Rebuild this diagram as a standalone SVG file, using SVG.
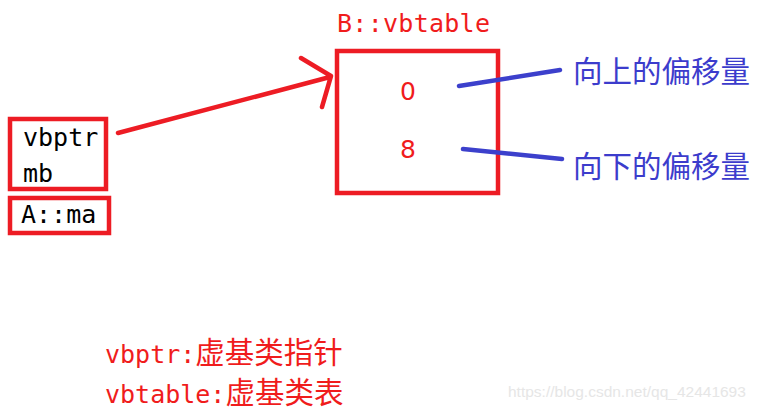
<svg xmlns="http://www.w3.org/2000/svg" width="761" height="411" viewBox="0 0 761 411">
<style>
.box{fill:none;stroke:#ed1c24;stroke-width:4.5}
.mono{font-family:"DejaVu Sans Mono","Liberation Mono",monospace;font-size:25px}
.blk{fill:#000}
.red{fill:#f01c1c}
.cjk{font-family:"Noto Sans CJK SC",sans-serif;font-size:29.5px}
.blue{fill:#3c3ccc}
.rl{stroke:#ed1c24;stroke-width:4.5;fill:none;stroke-linecap:round;stroke-linejoin:round}
.bl{stroke:#3c40cc;stroke-width:4.5;fill:none;stroke-linecap:round}
</style>
<rect width="761" height="411" fill="#fff"/>
<g id="objA">
<rect class="box" x="10" y="119" width="96" height="70"/>
<text class="mono blk" x="23" y="146">vbptr</text>
<text class="mono blk" x="23" y="182">mb</text>
</g>
<g id="ma">
<rect class="box" x="10" y="198" width="99" height="35"/>
<text class="mono blk" x="21" y="223">A::ma</text>
</g>
<g id="vbtable">
<text class="mono red" x="337" y="32" textLength="153">B::vbtable</text>
<rect class="box" x="337" y="51" width="161" height="142"/>
<text class="red" x="408" y="100" text-anchor="middle" font-family="DejaVu Sans,sans-serif" font-size="25">0</text>
<text class="red" x="408" y="158" text-anchor="middle" font-family="DejaVu Sans,sans-serif" font-size="25">8</text>
</g>
<g id="up">
<text class="cjk blue" x="573" y="82">向上的偏移量</text>
</g>
<g id="down">
<text class="cjk blue" x="573" y="177">向下的偏移量</text>
</g>
<g id="connectors">
<path class="rl" d="M118,133 L330,77 M301,58 L331,76 L322,107"/>
<path class="bl" d="M459,86 L560,70"/>
<path class="bl" d="M463,149 L562,159"/>
</g>
<g id="legend">
<text class="mono red" x="105" y="363">vbptr:<tspan class="cjk" font-size="29">虚基类指针</tspan></text>
<text class="mono red" x="105" y="403">vbtable:<tspan class="cjk" font-size="29">虚基类表</tspan></text>
</g>
<text x="508" y="397" font-family="Liberation Sans,Arial,sans-serif" font-size="15.5" fill="#e6e6e6">https://blog.csdn.net/qq_42441693</text>
</svg>
